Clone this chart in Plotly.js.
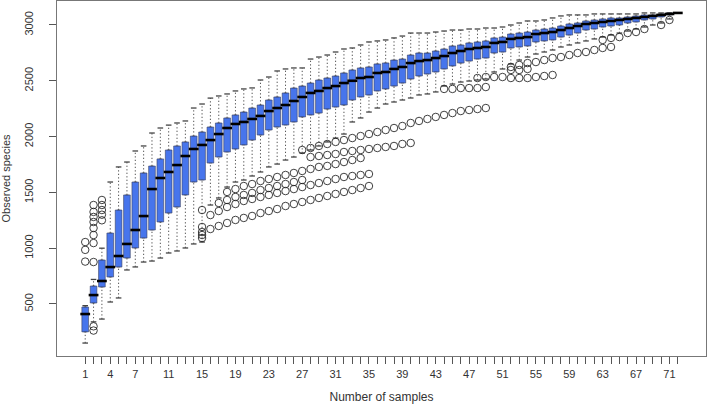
<!DOCTYPE html>
<html>
<head>
<meta charset="utf-8">
<script src="https://cdn.plot.ly/plotly-3.0.1.min.js"></script>
<style>html,body{margin:0;padding:0;background:#fff;}#chart{width:709px;height:404px;}</style>
</head>
<body>
<div id="chart"></div>
<script>
// Number of samples (categories)
const samples = [1,2,3,4,5,6,7,8,9,10,11,12,13,14,15,16,17,18,19,20,21,22,23,24,25,26,27,28,29,30,31,32,33,34,35,36,37,38,39,40,41,42,43,44,45,46,47,48,49,50,51,52,53,54,55,56,57,58,59,60,61,62,63,64,65,66,67,68,69,70,71,72];
const tickLabels = [1,4,7,11,15,19,23,27,31,35,39,43,47,51,55,59,63,67,71];

// Observed species: whisker ends, quartiles, medians
const whiskerLow = [150,340,365,518,554,805,832,876,885,912,
  957,975,1002,1038,1055,1387,1450,1548,1593,1611,
  1647,1683,1728,1754,1790,1817,1853,1880,1916,1952,
  1987,2023,2131,2167,2220,2256,2292,2310,2328,2346,
  2373,2382,2400,2453,2471,2489,2498,2507,2516,2579,
  2606,2650,2686,2713,2740,2758,2776,2803,2821,2839,
  2857,2875,2892,2910,2928,2946,2964,2982,3000,3018,
  3054,3108];
const q1 = [250,509,652,742,831,912,1002,1091,1163,1235,
  1315,1369,1477,1593,1611,1763,1817,1862,1889,1925,
  1969,2014,2059,2086,2104,2131,2176,2194,2211,2247,
  2265,2283,2328,2355,2373,2409,2427,2453,2480,2516,
  2543,2561,2579,2606,2633,2659,2677,2695,2704,2749,
  2758,2794,2803,2812,2848,2857,2866,2892,2910,2928,
  2955,2964,2982,2991,3000,3018,3027,3045,3054,3072,
  3090,3108];
const median = [410,580,706,831,930,1038,1163,1288,1530,1629,
  1683,1745,1826,1889,1925,1969,2023,2077,2113,2131,
  2158,2185,2229,2256,2283,2319,2355,2391,2409,2435,
  2453,2480,2500,2525,2534,2570,2579,2606,2624,2659,
  2677,2686,2704,2722,2749,2767,2785,2794,2803,2839,
  2848,2875,2884,2892,2919,2928,2937,2955,2973,2991,
  3009,3018,3027,3036,3045,3054,3063,3072,3081,3090,
  3099,3108];
const q3 = [473,661,894,1136,1342,1477,1593,1674,1736,1800,
  1880,1916,1952,2005,2041,2086,2122,2167,2194,2220,
  2256,2283,2328,2355,2391,2435,2453,2480,2507,2525,
  2543,2570,2597,2615,2624,2651,2660,2686,2695,2731,
  2749,2749,2767,2785,2812,2821,2839,2848,2857,2884,
  2892,2919,2928,2937,2955,2964,2973,2991,3009,3018,
  3036,3045,3054,3063,3063,3072,3081,3090,3090,3099,
  3108,3108];
const whiskerHigh = [485,720,1000,1593,1728,1772,1871,1916,2032,2077,
  2103,2122,2140,2256,2292,2345,2364,2382,2409,2427,
  2436,2507,2534,2588,2606,2615,2615,2695,2713,2731,
  2758,2785,2794,2821,2848,2857,2866,2884,2901,2928,
  2928,2928,2937,2946,2955,2955,2964,2964,2973,2973,
  2982,3000,3018,3036,3036,3045,3063,3081,3090,3090,
  3090,3099,3099,3099,3099,3099,3099,3108,3108,3108,
  3108,3108];

// Outliers: sample index and observed species
const outlierSample = [
  1,1,1,
  2,2,2,2,2,2,2,2,2,2,
  3,3,3,3,3,
  15,15,15,15,15,
  16,17,18,19,20,21,22,23,24,25,26,27,28,29,30,31,32,33,34,35,
  16,17,18,19,20,21,22,23,24,25,26,27,28,29,30,31,32,33,34,35,
  17,18,19,20,21,22,23,24,25,26,27,
  18,19,20,21,22,23,24,25,26,27,28,29,30,31,32,33,34,
  28,29,30,31,32,33,34,35,36,37,38,39,40,
  27,28,29,30,31,32,33,34,35,36,37,38,39,40,41,42,43,44,45,46,47,48,49,
  44,45,46,47,48,49,
  48,49,50,51,52,53,54,55,56,57,
  52,53,54,55,56,57,58,59,60,61,62,63,64,
  52,53,54,
  63,64,65,66,67,68,70,71];
const outlierValue = [
  880,985,1055,
  262,300,876,1046,1118,1181,1235,1280,1325,1387,
  1250,1300,1342,1387,1432,
  1091,1118,1145,1190,1342,
  1172,1199,1226,1253,1271,1289,1315,1333,1351,1378,1396,1414,1432,1450,1468,1486,1504,1521,1539,1557,
  1297,1333,1369,1396,1423,1441,1459,1477,1495,1512,1530,1548,1566,1584,1602,1620,1638,1647,1656,1665,
  1405,1432,1459,1477,1495,1521,1539,1557,1575,1593,1611,
  1504,1530,1557,1575,1602,1620,1638,1656,1674,1692,1710,1728,1737,1754,1772,1790,1808,
  1817,1826,1835,1844,1862,1871,1880,1889,1898,1907,1916,1934,1943,
  1880,1898,1916,1934,1952,1969,1987,2005,2023,2041,2059,2077,2095,2122,2140,2158,2176,2194,2211,2229,2238,2247,2256,
  2427,2427,2435,2435,2435,2444,
  2525,2534,2534,2534,2525,2525,2525,2534,2543,2552,
  2624,2642,2659,2668,2686,2704,2713,2731,2749,2758,2776,2794,2803,
  2597,2597,2606,
  2866,2884,2892,2928,2937,2964,3000,3045];

// Build whisker segments from the data
const wx = [], wy = [];
samples.forEach((s, i) => {
  wx.push(s, s, null, s, s, null);
  wy.push(whiskerLow[i], q1[i], null, q3[i], whiskerHigh[i], null);
});

const FONT = 'Liberation Sans, Arial, Helvetica, sans-serif';

const traces = [
  {type: 'scatter', mode: 'lines', x: wx, y: wy, connectgaps: false,
   line: {color: '#555', width: 1, dash: '1.3px,2.2px'}, hoverinfo: 'skip', showlegend: false},
  {type: 'scatter', mode: 'markers', x: samples.concat(samples), y: whiskerLow.concat(whiskerHigh),
   marker: {symbol: 'line-ew', size: 4, line: {color: '#444', width: 1.3}}, hoverinfo: 'skip', showlegend: false},
  {type: 'box', x: samples, q1: q1, median: median, q3: q3, lowerfence: q1, upperfence: q3,
   width: 0.8, fillcolor: '#4775EC', line: {color: '#3a4160', width: 0.6}, boxpoints: false,
   hoverinfo: 'skip', showlegend: false},
  {type: 'scatter', mode: 'markers', x: samples, y: median,
   marker: {symbol: 'line-ew', size: 7, line: {color: '#000', width: 2.6}}, hoverinfo: 'skip', showlegend: false},
  {type: 'scatter', mode: 'markers', x: outlierSample, y: outlierValue,
   marker: {symbol: 'circle-open', size: 7.5, color: 'rgba(30,30,30,0.85)', line: {width: 1}},
   hoverinfo: 'skip', showlegend: false}
];

const layout = {
  width: 709, height: 404,
  margin: {l: 57, r: 3, t: 1, b: 48},
  paper_bgcolor: '#fff', plot_bgcolor: '#fff',
  font: {family: FONT, size: 11, color: '#333'},
  showlegend: false,
  xaxis: {
    range: [-2.38, 75.38], tickmode: 'array', tickvals: samples,
    ticktext: samples.map(s => tickLabels.includes(s) ? String(s) : ''),
    ticks: 'outside', ticklen: 7, tickwidth: 1, tickcolor: '#555',
    showline: true, mirror: true, linecolor: '#777', linewidth: 1.2,
    showgrid: false, zeroline: false, ticklabelstandoff: 1,
    tickfont: {family: FONT, size: 11, color: '#333'},
    title: {text: 'Number of samples', font: {family: FONT, size: 12, color: '#333'}, standoff: 14}
  },
  yaxis: {
    range: [34, 3215], tickmode: 'array', tickvals: [500,1000,1500,2000,2500,3000],
    ticktext: ['500','1000','1500','2000','2500','3000'], tickangle: -90,
    ticks: 'outside', ticklen: 7, tickwidth: 1, tickcolor: '#555',
    showline: true, mirror: true, linecolor: '#777', linewidth: 1.2,
    showgrid: false, zeroline: false, ticklabelstandoff: 11,
    tickfont: {family: FONT, size: 11, color: '#333'},
    title: {text: 'Observed species', font: {family: FONT, size: 11, color: '#333'}, standoff: 10}
  }
};

Plotly.newPlot('chart', traces, layout, {staticPlot: true, displayModeBar: false});
</script>
</body>
</html>
